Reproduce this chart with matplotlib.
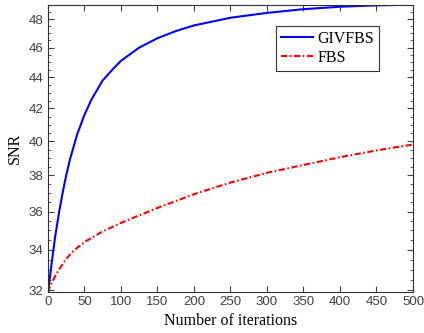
import matplotlib
matplotlib.use("Agg")
import matplotlib.pyplot as plt
import numpy as np
from matplotlib.ticker import FixedLocator, FixedFormatter, NullFormatter

iters = [0, 2, 5, 10, 15, 20, 25, 30, 40, 50, 60, 75, 90, 100, 125, 150, 175, 200,
         250, 300, 350, 400, 450, 500]
snr_givfbs = [31.9, 32.4, 33.3, 34.7, 35.9, 37.0, 38.0, 38.9, 40.4, 41.6, 42.6, 43.8, 44.6, 45.1,
              46.0, 46.65, 47.15, 47.55, 48.1, 48.45, 48.72, 48.9, 49.0, 49.05]
iters_fbs = [0, 2, 5, 10, 15, 25, 35, 50, 75, 100, 125, 150, 200, 250, 300, 350, 400, 450, 500]
snr_fbs = [31.9, 32.1, 32.35, 32.7, 33.0, 33.55, 33.95, 34.4, 34.95, 35.4, 35.8, 36.2, 36.95,
           37.6, 38.15, 38.6, 39.05, 39.45, 39.8]
xticks = list(range(0, 501, 50))
yticks = list(range(32, 49, 2))

fig = plt.figure(figsize=(4.24, 3.33), dpi=100)
ax = fig.add_axes([0.113, 0.1246, 0.861, 0.8614])

ax.plot(iters, snr_givfbs, color='#0000ff', lw=1.5, label='GIVFBS')
ax.plot(iters_fbs, snr_fbs, color='#ff0000', lw=1.5, dashes=[3, 1.2, 0.8, 1.2], label='FBS')

ax.set_yscale('log')
ax.set_xlim(0, 500)
ax.set_ylim(31.95, 49.05)
ax.set_xticks(xticks)
ax.yaxis.set_major_locator(FixedLocator(yticks))
ax.yaxis.set_major_formatter(FixedFormatter([str(v) for v in yticks]))
ax.yaxis.set_minor_locator(FixedLocator(list(np.arange(32, 49.01, 0.5))))
ax.yaxis.set_minor_formatter(NullFormatter())

ax.tick_params(axis='both', which='both', direction='in', top=True, right=True,
               labelsize=9.5, labelcolor='#404040', color='#404040')
ax.tick_params(which='major', length=4)
ax.tick_params(which='minor', length=2)
for lab in ax.get_xticklabels() + ax.get_yticklabels():
    lab.set_family(['Liberation Sans', 'DejaVu Sans'])
for s in ax.spines.values():
    s.set_color('#303030')
    s.set_linewidth(0.8)

serif = ['Liberation Serif', 'DejaVu Serif']
ax.set_xlabel('Number of iterations', fontsize=11.5, family=serif, labelpad=3)
ax.set_ylabel('SNR', fontsize=11.5, family=serif, labelpad=4)

leg = ax.legend(loc='upper right', bbox_to_anchor=(0.907, 0.926), prop={'family': serif, 'size': 11.5},
                frameon=True, fancybox=False, edgecolor='black', borderpad=0.3,
                handlelength=2.0, handletextpad=0.3, labelspacing=0.2, borderaxespad=0)
leg.get_frame().set_linewidth(0.8)

fig.savefig('out.png', dpi=100)
